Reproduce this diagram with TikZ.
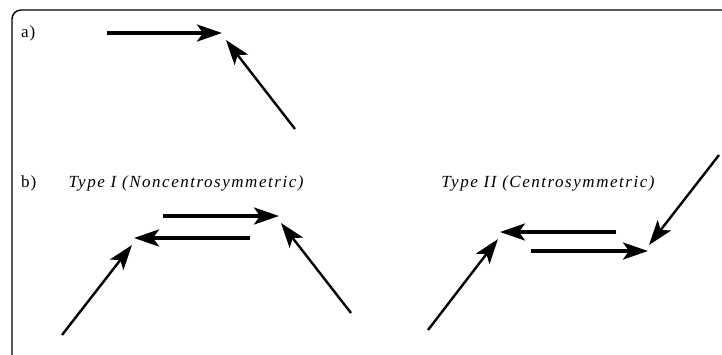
\documentclass[tikz,border=0pt]{standalone}
\usepackage{fontspec}
\setmainfont{Liberation Serif}
\usetikzlibrary{arrows.meta}
\begin{document}
\begin{tikzpicture}[x=1pt,y=-1pt,
  arr/.style={line width=3.4pt,-{Stealth[length=25pt,width=17pt,inset=6pt]}},
  darr/.style={line width=2.4pt,-{Stealth[length=25pt,width=17pt,inset=6pt]}},
  lbl/.style={font=\fontsize{17}{20}\selectfont\addfontfeature{LetterSpace=5},inner sep=0pt},
  ttl/.style={font=\fontsize{17}{20}\selectfont\itshape\addfontfeature{LetterSpace=9},inner sep=0pt}]
\useasboundingbox (0,0) rectangle (722,354);
\draw[line width=1.4pt,rounded corners=9pt] (730,10) -- (12,10) -- (12,360);
% labels
\node[lbl,anchor=west] (la) at (21,33) {a)};
\node[lbl,anchor=west] (lb) at (21,183) {b)};
\node[ttl] (t1) at (186,183) {Type I (Noncentrosymmetric)};
\node[ttl] (t2) at (548,183) {Type II (Centrosymmetric)};
% a)
\coordinate (a1s) at (107,33); \coordinate (a1e) at (222,33);
\coordinate (a2s) at (295,129); \coordinate (a2e) at (226,40);
\draw[arr] (a1s) -- (a1e);
\draw[darr] (a2s) -- (a2e);
% Type I
\coordinate (p1s) at (163,216); \coordinate (p1e) at (279,216);
\coordinate (p2s) at (250,238); \coordinate (p2e) at (134,238);
\coordinate (p3s) at (62,335); \coordinate (p3e) at (132,245);
\coordinate (p4s) at (351,313); \coordinate (p4e) at (281,223);
\draw[arr] (p1s) -- (p1e);
\draw[arr] (p2s) -- (p2e);
\draw[darr] (p3s) -- (p3e);
\draw[darr] (p4s) -- (p4e);
% Type II
\coordinate (q1s) at (616,232); \coordinate (q1e) at (500,232);
\coordinate (q2s) at (531,251); \coordinate (q2e) at (648,251);
\coordinate (q3s) at (428,330); \coordinate (q3e) at (498,239);
\coordinate (q4s) at (719,155); \coordinate (q4e) at (649,245);
\draw[arr] (q1s) -- (q1e);
\draw[arr] (q2s) -- (q2e);
\draw[darr] (q3s) -- (q3e);
\draw[darr] (q4s) -- (q4e);
\end{tikzpicture}
\end{document}
